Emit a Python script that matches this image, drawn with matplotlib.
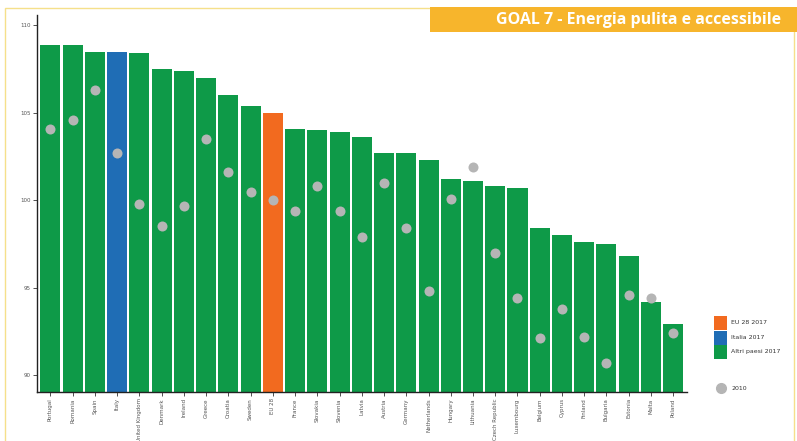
import matplotlib
matplotlib.use("Agg")
import matplotlib.pyplot as plt
from matplotlib.patches import Rectangle
import numpy as np

# Energy indicator by country: 2017 (bars) and 2010 (dots)
countries = ["Portugal", "Romania", "Spain", "Italy", "United Kingdom", "Denmark",
             "Ireland", "Greece", "Croatia", "Sweden", "EU 28", "France", "Slovakia",
             "Slovenia", "Latvia", "Austria", "Germany", "Netherlands", "Hungary",
             "Lithuania", "Czech Republic", "Luxembourg", "Belgium", "Cyprus",
             "Finland", "Bulgaria", "Estonia", "Malta", "Poland"]
values_2017 = [108.9, 108.9, 108.5, 108.5, 108.4, 107.5, 107.4, 107.0, 106.0, 105.4,
               105.0, 104.1, 104.0, 103.9, 103.6, 102.7, 102.7, 102.3, 101.2, 101.1,
               100.8, 100.7, 98.4, 98.0, 97.6, 97.5, 96.8, 94.2, 92.9]
values_2010 = [104.1, 104.6, 106.3, 102.7, 99.8, 98.5, 99.7, 103.5, 101.6, 100.5,
               100.0, 99.4, 100.8, 99.4, 97.9, 101.0, 98.4, 94.8, 100.1, 101.9,
               97.0, 94.4, 92.1, 93.8, 92.2, 90.7, 94.6, 94.4, 92.4]
y_ticks = [90, 95, 100, 105, 110]

GREEN = "#0E9A48"
BLUE = "#1F6DB5"
ORANGE = "#F26A1F"
DOT = "#B5B5B5"
BANNER = "#F7B52C"

colors = []
for c in countries:
    if c == "Italy":
        colors.append(BLUE)
    elif c == "EU 28":
        colors.append(ORANGE)
    else:
        colors.append(GREEN)

fig = plt.figure(figsize=(7.97, 4.41), dpi=100)
fig.patch.set_facecolor("white")

# outer frame and title banner
fig.add_artist(Rectangle((5 / 797, -0.05), 789 / 797, 1 - 8 / 441 + 0.05,
                         transform=fig.transFigure, fill=False,
                         edgecolor="#F5E08A", linewidth=1.0))
fig.add_artist(Rectangle((430 / 797, 1 - 32 / 441), 367 / 797, 25 / 441,
                         transform=fig.transFigure, facecolor=BANNER,
                         edgecolor="none"))
fig.text(781 / 797, 1 - 19.5 / 441, "GOAL 7 - Energia pulita e accessibile",
         ha="right", va="center", color="white", fontsize=11.5,
         fontweight="bold", family="Open Sans")

ax = fig.add_axes([37 / 797, 1 - 392 / 441, 650 / 797, 377 / 441])
x = np.arange(len(countries))
ax.bar(x, values_2017, width=0.9, color=colors, bottom=0, zorder=2)
ax.scatter(x, values_2010, s=52, color=DOT, zorder=3, linewidths=0)

ax.set_ylim(89.03, 110.6)
ax.set_xlim(-0.6, 28.62)
ax.set_yticks(y_ticks)
ax.set_yticklabels([str(t) for t in y_ticks], fontsize=4, color="#555555")
ax.set_xticks(x)
ax.set_xticklabels(countries, rotation=90, fontsize=4, color="#555555")
ax.tick_params(axis="both", length=3, width=0.6, color="#333333", pad=1.5)
for side in ("top", "right"):
    ax.spines[side].set_visible(False)
for side in ("left", "bottom"):
    ax.spines[side].set_color("#222222")
    ax.spines[side].set_linewidth(1.0)

# legend
leg_items = [("EU 28 2017", ORANGE, 323), ("Italia 2017", BLUE, 337.5),
             ("Altri paesi 2017", GREEN, 352)]
for label, col, yc in leg_items:
    fig.add_artist(Rectangle((714 / 797, 1 - (yc + 7) / 441), 13 / 797, 14 / 441,
                             transform=fig.transFigure, facecolor=col,
                             edgecolor="none"))
    fig.text(731 / 797, 1 - yc / 441, label, ha="left", va="center",
             fontsize=4.5, color="#333333")
fig.add_artist(plt.Line2D([720.5 / 797], [1 - 388 / 441], marker="o",
                          markersize=7, color=DOT, linestyle="none",
                          transform=fig.transFigure))
fig.text(731 / 797, 1 - 388 / 441, "2010", ha="left", va="center",
         fontsize=4.5, color="#333333")

fig.savefig("out.png", dpi=100)
